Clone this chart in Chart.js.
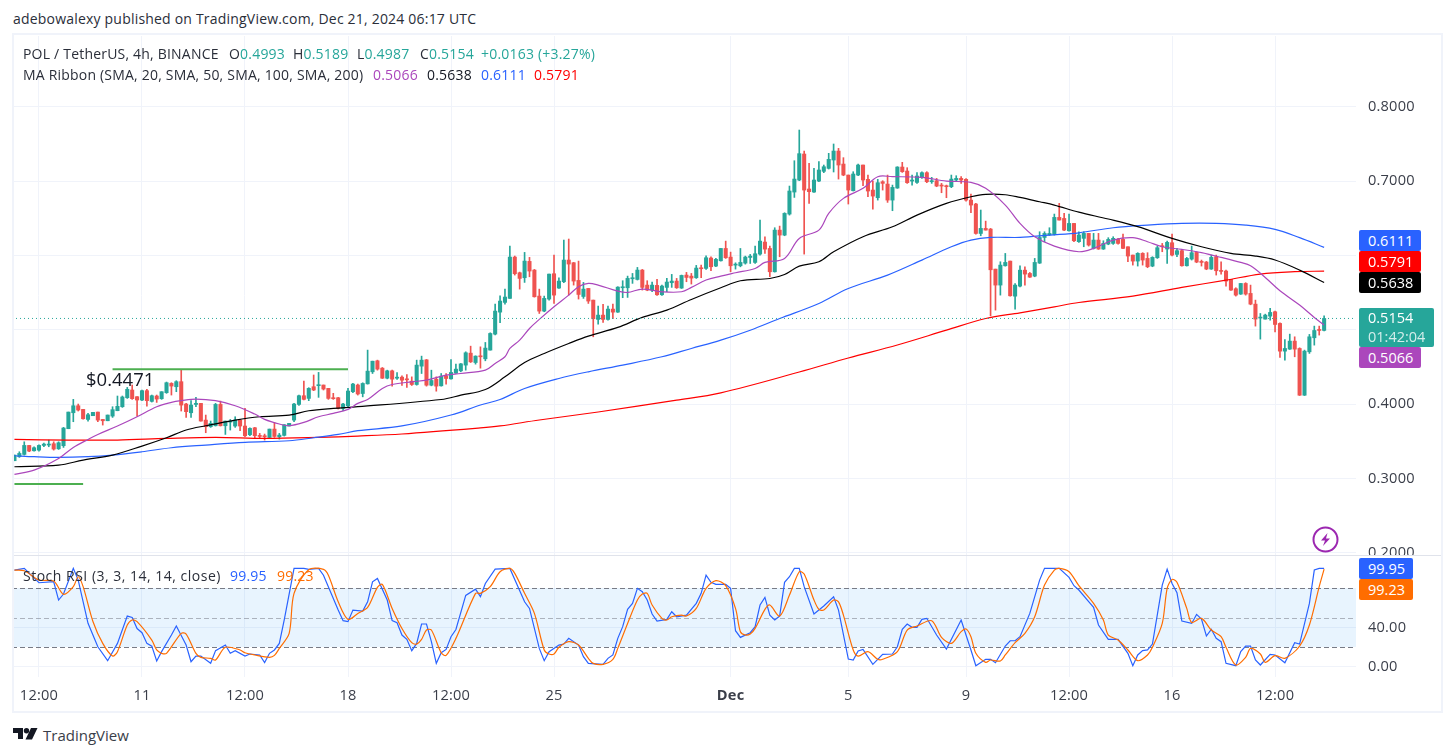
<!DOCTYPE html>
<html>
<head>
<meta charset="utf-8">
<title>POL / TetherUS</title>
<script src="https://cdn.jsdelivr.net/npm/chart.js@4"></script>
<style>
  html, body { margin: 0; padding: 0; background: #fff; width: 1453px; height: 756px; overflow: hidden; }
  body { position: relative; font-family: "Open Sans", sans-serif; font-size: 14px; letter-spacing: 0.2px; color: #131722; }
  canvas { position: absolute; }
  .t { position: absolute; white-space: pre; line-height: 16px; }
  .frame { position: absolute; box-sizing: border-box; pointer-events: none; }
  .tag { position: absolute; color: #fff; font-size: 14.5px; letter-spacing: 0; box-sizing: border-box; padding-left: 9px; border-radius: 2px; }
</style>
</head>
<body>
<canvas id="price" style="left:12px;top:36px"></canvas>
<canvas id="stoch" style="left:12px;top:556px"></canvas>

<div class="frame" style="left:12px;top:33px;width:1431px;height:680px;border:2px solid #f0f3fa"></div>
<div class="frame" style="left:14px;top:555px;width:1427px;height:1px;background:#e0e3eb"></div>

<div class="t" style="left:13px;top:11px;color:#2a2e39">adebowalexy published on TradingView.com, Dec 21, 2024 06:17 UTC</div>

<div class="t" style="left:23px;top:46px;color:#2a2e39">POL / TetherUS, 4h, BINANCE</div>
<div class="t" style="left:229px;top:46px;color:#2a2e39">O<span style="color:#26a69a">0.4993</span></div>
<div class="t" style="left:293px;top:46px;color:#2a2e39">H<span style="color:#26a69a">0.5189</span></div>
<div class="t" style="left:357px;top:46px;color:#2a2e39">L<span style="color:#26a69a">0.4987</span></div>
<div class="t" style="left:420px;top:46px;color:#2a2e39">C<span style="color:#26a69a">0.5154</span></div>
<div class="t" style="left:481px;top:46px;color:#26a69a">+0.0163 (+3.27%)</div>

<div class="t" style="left:23px;top:67px;color:#2a2e39">MA Ribbon (SMA, 20, SMA, 50, SMA, 100, SMA, 200)</div>
<div class="t" style="left:373px;top:67px;color:#ab47bc">0.5066</div>
<div class="t" style="left:427px;top:67px;color:#131722">0.5638</div>
<div class="t" style="left:481px;top:67px;color:#2962ff">0.6111</div>
<div class="t" style="left:534px;top:67px;color:#ff0000">0.5791</div>

<div class="t" style="left:86px;top:369px;font-size:18.5px;line-height:20px;letter-spacing:0;color:#131722">$0.4471</div>

<div class="t" style="left:23px;top:568px;letter-spacing:0.5px;color:#2a2e39">Stoch RSI (3, 3, 14, 14, close)</div>
<div class="t" style="left:230px;top:568px;color:#2962ff">99.95</div>
<div class="t" style="left:277px;top:568px;color:#ff6d00">99.23</div>

<div class="tag" style="left:1359px;top:230px;width:62px;height:21px;line-height:21px;background:#2962ff">0.6111</div>
<div class="tag" style="left:1359px;top:251px;width:62px;height:21px;line-height:21px;background:#ff0000">0.5791</div>
<div class="tag" style="left:1359px;top:272px;width:62px;height:21px;line-height:21px;background:#000">0.5638</div>
<div class="tag" style="left:1359px;top:308px;width:75px;height:39px;line-height:19px;background:#26a69a">0.5154<br><span style="opacity:.8">01:42:04</span></div>
<div class="tag" style="left:1359px;top:347px;width:62px;height:21px;line-height:21px;background:#ab47bc">0.5066</div>
<div class="tag" style="left:1359px;top:558px;width:54px;height:21px;line-height:21px;background:#2962ff">99.95</div>
<div class="tag" style="left:1359px;top:579px;width:54px;height:21px;line-height:21px;background:#ff6d00">99.23</div>

<svg style="position:absolute;left:1312px;top:526px" width="27" height="27" viewBox="0 0 27 27">
  <circle cx="13.5" cy="13.5" r="12" fill="#fff" stroke="#9c27b0" stroke-width="2"/>
  <path d="M15.5 7 L9 14.5 H13 L11 20 L18 12.5 H14 Z" fill="#9c27b0"/>
</svg>

<svg style="position:absolute;left:13px;top:728px" width="25" height="12" viewBox="0 0 25 12">
  <path d="M0 0H10V11H5V5H0Z M18 0H24.5L19 11.5H12.5Z" fill="#131722"/>
  <circle cx="13.5" cy="2.7" r="2.7" fill="#131722"/>
</svg>
<div class="t" style="left:43px;top:726px;font-size:15px;line-height:18px;letter-spacing:0;color:#3a3e49">TradingView</div>

<script>
// Four-hour candles, POL / TetherUS on Binance
const opens = [
.3239,.3293,.3324,.3445,.3373,.3382,.3445,.3450,.3468,.3400,
.3441,.3670,.3885,.3979,.3930,.3795,.3845,.3894,.3795,.3777,
.3840,.3912,.3966,.4087,.4191,.4101,.4056,.4182,.4038,.4110,
.4074,.4155,.4280,.4235,.4303,.4002,.3885,.3997,.4011,.3786,
.3697,.3710,.3997,.3710,.3759,.3706,.3786,.3706,.3589,.3683,
.3580,.3575,.3553,.3665,.3562,.3580,.3706,.3786,.3997,.4114,
.4078,.4235,.4249,.4258,.4213,.4087,.4087,.3944,.3979,.4168,
.4258,.4144,.4274,.4436,.4584,.4485,.4350,.4449,.4350,.4364,
.4333,.4310,.4265,.4512,.4597,.4256,.4337,.4247,.4382,.4341,
.4418,.4449,.4526,.4687,.4561,.4642,.4611,.4728,.4943,.5239,
.5370,.5424,.5980,.5769,.5702,.5922,.5805,.5455,.5253,.5415,
.5756,.5563,.5648,.5940,.5904,.5666,.5450,.5558,.5401,.5141,
.5199,.5141,.5280,.5239,.5567,.5567,.5688,.5679,.5805,.5603,
.5536,.5599,.5473,.5572,.5635,.5657,.5563,.5738,.5724,.5702,
.5832,.5828,.5967,.5859,.5930,.6096,.5980,.5872,.5863,.5899,
.5975,.5908,.6020,.6182,.6096,.5782,.6343,.6276,.6559,.6855,
.7017,.7367,.6896,.6855,.7003,.7134,.7174,.7286,.7407,.7232,
.7084,.6873,.7084,.7219,.7026,.6882,.6779,.6994,.6963,.6747,
.6909,.7192,.7138,.7003,.6985,.7053,.7116,.6994,.7008,.6949,
.6940,.6927,.7017,.7039,.7026,.6747,.6694,.6298,.6366,.6357,
.5818,.5603,.5863,.5926,.5454,.5589,.5804,.5760,.5724,.5899,
.6244,.6280,.6285,.6514,.6500,.6334,.6433,.6187,.6232,.6299,
.6097,.6209,.6088,.6155,.6164,.6218,.6218,.6119,.6007,.5926,
.6030,.5962,.5859,.5971,.6133,.6088,.6173,.6016,.6066,.5863,
.5953,.6043,.5922,.5913,.5819,.5985,.5796,.5792,.5679,.5554,
.5482,.5625,.5491,.5347,.5159,.5145,.5185,.5244,.5087,.4714,
.4741,.4849,.4750,.4121,.4705,.4894,.5006,.4993];
const highs = [
.3315,.3360,.3494,.3445,.3427,.3454,.3477,.3517,.3494,.3494,
.3688,.3894,.4065,.4002,.3930,.3876,.3890,.3894,.3795,.3854,
.3966,.4110,.4110,.4226,.4258,.4101,.4191,.4200,.4123,.4123,
.4168,.4298,.4289,.4316,.4469,.4011,.4047,.4092,.4011,.3854,
.3773,.4011,.4042,.3773,.3795,.3831,.3795,.3944,.3683,.3688,
.3607,.3598,.3665,.3755,.3607,.3724,.3742,.4011,.4123,.4312,
.4222,.4393,.4428,.4258,.4213,.4146,.4092,.4011,.4213,.4280,
.4271,.4288,.4728,.4579,.4593,.4494,.4458,.4458,.4427,.4382,
.4400,.4368,.4593,.4647,.4602,.4458,.4368,.4413,.4413,.4602,
.4539,.4548,.4705,.4781,.4651,.4772,.4831,.4961,.5347,.5459,
.5549,.6128,.5994,.5778,.6043,.5976,.5814,.5549,.5455,.5751,
.6007,.5702,.6209,.6223,.5908,.5926,.5639,.5558,.5401,.5320,
.5343,.5320,.5347,.5581,.5662,.5724,.5760,.5841,.5814,.5662,
.5644,.5679,.5603,.5693,.5747,.5693,.5738,.5774,.5760,.5868,
.5873,.5998,.5985,.5962,.6096,.6195,.6047,.5903,.6096,.5993,
.6016,.6128,.6478,.6254,.6128,.6375,.6397,.6577,.6936,.7277,
.7690,.7407,.7241,.7174,.7264,.7219,.7376,.7502,.7443,.7318,
.7084,.7129,.7232,.7219,.7084,.7003,.7026,.7008,.7084,.6949,
.7196,.7255,.7183,.7084,.7116,.7129,.7129,.7053,.7039,.6972,
.6949,.7084,.7075,.7062,.7035,.6828,.6703,.6613,.6464,.6366,
.5818,.5917,.6029,.5926,.5625,.5863,.5849,.5773,.5962,.6321,
.6321,.6375,.6559,.6703,.6568,.6559,.6433,.6321,.6321,.6299,
.6299,.6299,.6200,.6241,.6254,.6232,.6290,.6119,.6007,.6039,
.6039,.6039,.5985,.6128,.6164,.6196,.6290,.6097,.6075,.5976,
.6128,.6052,.5940,.5922,.6007,.6007,.5917,.5805,.5679,.5567,
.5625,.5635,.5603,.5401,.5221,.5212,.5289,.5253,.5096,.4871,
.4943,.4907,.4759,.4728,.4939,.5051,.5051,.5189];
const lows = [
.3239,.3284,.3315,.3360,.3369,.3369,.3427,.3427,.3382,.3391,
.3418,.3670,.3764,.3908,.3800,.3773,.3845,.3764,.3719,.3777,
.3822,.3912,.3957,.4078,.4065,.3840,.4047,.3975,.4029,.4024,
.4065,.4146,.4123,.4168,.3908,.3822,.3822,.3966,.3773,.3616,
.3688,.3706,.3706,.3593,.3652,.3688,.3643,.3562,.3575,.3539,
.3539,.3517,.3539,.3553,.3530,.3571,.3706,.3764,.3984,.4056,
.4047,.4182,.4092,.4191,.4065,.4065,.3935,.3912,.3957,.4155,
.4123,.4099,.4270,.4413,.4458,.4346,.4341,.4243,.4333,.4252,
.4225,.4252,.4256,.4413,.4243,.4247,.4175,.4243,.4270,.4337,
.4413,.4436,.4458,.4561,.4539,.4485,.4584,.4728,.4934,.5096,
.5347,.5424,.5738,.5549,.5639,.5715,.5441,.5221,.5244,.5401,
.5356,.5558,.5635,.5468,.5603,.5415,.5424,.5356,.4907,.5078,
.5100,.5132,.5150,.5235,.5433,.5437,.5626,.5671,.5536,.5527,
.5513,.5464,.5464,.5513,.5572,.5558,.5558,.5648,.5617,.5693,
.5702,.5814,.5796,.5850,.5926,.5962,.5782,.5818,.5849,.5885,
.5894,.5894,.6007,.6029,.5715,.5778,.5984,.6267,.6545,.6783,
.7008,.6020,.6703,.6851,.6994,.7116,.7165,.7125,.7030,.7075,
.6694,.6869,.7075,.6940,.6792,.6626,.6747,.6882,.6716,.6604,
.6905,.7120,.6972,.6949,.6972,.7039,.6981,.6972,.6927,.6846,
.6779,.6914,.7008,.6972,.6734,.6577,.6289,.6267,.6343,.5189,
.5266,.5468,.5858,.5454,.5279,.5580,.5603,.5706,.5715,.5894,
.6186,.6271,.6276,.6478,.6334,.6330,.6186,.6178,.6119,.6128,
.6088,.6083,.6083,.6146,.6151,.6155,.6092,.5917,.5872,.5859,
.5872,.5837,.5850,.5962,.6052,.5895,.5994,.5985,.5859,.5859,
.5940,.5904,.5859,.5810,.5814,.5738,.5751,.5590,.5531,.5455,
.5477,.5468,.5338,.5051,.4876,.5145,.5132,.4974,.4629,.4593,
.4737,.4638,.4117,.4117,.4683,.4795,.4930,.4987];
const closes = [
.3315,.3337,.3445,.3369,.3414,.3445,.3463,.3463,.3396,.3481,
.3679,.3894,.3979,.3921,.3804,.3858,.3890,.3786,.3777,.3854,
.3926,.3971,.4097,.4200,.4074,.4056,.4182,.4047,.4114,.4069,
.4168,.4289,.4244,.4303,.3988,.3899,.3988,.4011,.3773,.3697,
.3742,.3997,.3710,.3773,.3773,.3786,.3706,.3575,.3674,.3575,
.3566,.3562,.3665,.3566,.3584,.3724,.3742,.4002,.4114,.4065,
.4213,.4191,.4258,.4204,.4078,.4074,.3944,.4002,.4177,.4271,
.4137,.4279,.4445,.4579,.4472,.4350,.4449,.4337,.4364,.4323,
.4328,.4265,.4526,.4593,.4256,.4319,.4243,.4377,.4346,.4427,
.4472,.4543,.4692,.4570,.4647,.4638,.4755,.4952,.5253,.5388,
.5442,.5980,.5756,.5693,.5926,.5792,.5446,.5253,.5424,.5751,
.5468,.5657,.5940,.5886,.5657,.5477,.5549,.5388,.5150,.5199,
.5141,.5280,.5239,.5576,.5576,.5693,.5702,.5805,.5572,.5536,
.5603,.5473,.5590,.5644,.5657,.5567,.5733,.5706,.5697,.5832,
.5823,.5971,.5850,.5949,.6096,.5971,.5863,.5885,.5908,.5980,
.5993,.6025,.6195,.6087,.5782,.6343,.6276,.6568,.6869,.7030,
.7372,.6882,.6860,.7017,.7152,.7196,.7295,.7407,.7219,.7084,
.6882,.7098,.7219,.7017,.6869,.6801,.6981,.6972,.6747,.6918,
.7192,.7129,.6981,.7017,.7071,.7116,.6994,.7008,.6936,.6936,
.6927,.7030,.7039,.7017,.6747,.6680,.6298,.6366,.6343,.5809,
.5603,.5872,.5908,.5459,.5603,.5804,.5751,.5710,.5908,.6244,
.6298,.6298,.6514,.6478,.6343,.6433,.6200,.6277,.6299,.6142,
.6209,.6088,.6164,.6218,.6232,.6164,.6097,.5994,.5926,.6030,
.5940,.5850,.5976,.6106,.6119,.6178,.6007,.6066,.5863,.5962,
.6039,.5913,.5908,.5819,.5976,.5796,.5787,.5657,.5536,.5468,
.5625,.5482,.5347,.5145,.5167,.5199,.5235,.5073,.4714,.4750,
.4849,.4741,.4121,.4714,.4907,.4992,.4992,.5154];

// Moving averages, read at the bars where each curve bends
const ma20Bars = [0,4,9,12,15,17,21,25,29,32,34,37,41,45,49,51,54,56,59,62,65,68,70,72,75,77,81,84,88,91,96,98,100,101,103,105,107,110,113,115,117,119,123,125,128,132,136,138,141,144,147,151,153,157,160,164,166,169,173,176,179,185,190,195,198,202,205,208,212,217,220,224,228,231,234,238,242,246,250,252,255,258,262,265,267];
const ma20 = [.3055,.3113,.3270,.3418,.3526,.3593,.3706,.3831,.3966,.4024,.4047,.4069,.4047,.3979,.3867,.3795,.3733,.3710,.3755,.3831,.3876,.3930,.4011,.4063,.4211,.4265,.4301,.4323,.4391,.4413,.4458,.4548,.4638,.4750,.4862,.5019,.5141,.5311,.5468,.5581,.5626,.5603,.5522,.5504,.5549,.5513,.5513,.5572,.5671,.5724,.5769,.5827,.5908,.5962,.6231,.6343,.6568,.6770,.6905,.7062,.7062,.7053,.7003,.6985,.6905,.6680,.6433,.6254,.6128,.6052,.6097,.6209,.6241,.6187,.6119,.6083,.6039,.5976,.5908,.5864,.5706,.5527,.5334,.5168,.5066];
const ma50Bars = [0,9,14,20,26,31,35,39,45,50,56,60,65,70,87,91,96,100,104,108,113,117,123,128,133,138,144,148,154,157,160,164,167,173,179,184,190,195,198,202,205,209,212,217,223,229,236,242,248,253,257,262,267];
const ma50 = [.3158,.3180,.3248,.3315,.3436,.3548,.3652,.3710,.3786,.3831,.3854,.3912,.3944,.3966,.4063,.4121,.4198,.4368,.4561,.4683,.4817,.4916,.5033,.5168,.5266,.5410,.5567,.5661,.5692,.5746,.5858,.5917,.6051,.6254,.6388,.6545,.6703,.6792,.6824,.6819,.6783,.6725,.6680,.6584,.6492,.6389,.6232,.6119,.6030,.5994,.5940,.5805,.5638];
const ma100Bars = [0,4,9,15,20,26,32,39,47,56,61,66,70,79,89,95,99,104,111,117,124,132,138,144,150,156,164,170,178,185,191,195,199,205,211,217,224,231,238,245,251,257,262,267];
const ma100 = [.3306,.3293,.3284,.3293,.3315,.3360,.3414,.3450,.3486,.3508,.3548,.3593,.3643,.3707,.3854,.3989,.4063,.4211,.4346,.4436,.4526,.4638,.4750,.4862,.4996,.5153,.5356,.5558,.5737,.5939,.6119,.6209,.6245,.6245,.6276,.6307,.6375,.6411,.6434,.6434,.6411,.6353,.6241,.6111];
const ma200Bars = [0,11,21,31,41,51,62,70,79,95,99,107,119,135,144,160,170,180,190,198,205,212,217,228,238,247,254,261,267];
const ma200 = [.3526,.3517,.3517,.3539,.3553,.3539,.3553,.3571,.3599,.3680,.3707,.3787,.3895,.4054,.4153,.4433,.4622,.4797,.4996,.5153,.5230,.5311,.5369,.5455,.5572,.5670,.5751,.5783,.5791];

// Horizontal ray drawings on the price pane
const resistance = 0.4471;
const resistanceBars = [20, 68];
const support = 0.2926;
const supportBars = [0, 14];

// Stochastic RSI, both lines
const stochKBars = [0,2,5,8,9,10,12,13,15,17,19,21,23,24,25,26,27,28,29,30,32,33,35,36,37,38,40,41,43,44,45,47,48,50,51,52,53,54,55,57,59,60,62,63,66,67,68,69,71,72,73,74,76,77,78,79,80,81,82,83,84,85,86,87,88,89,90,92,94,95,96,98,101,104,105,107,108,109,111,112,113,115,116,117,120,121,122,123,124,125,126,127,128,129,130,131,133,134,135,137,139,140,141,142,143,145,146,147,148,150,151,152,153,154,155,156,157,158,159,160,161,163,165,167,168,170,171,172,173,175,177,179,180,181,182,183,184,185,186,188,190,193,195,196,198,199,200,202,203,204,205,207,209,210,213,215,216,217,219,220,221,223,225,227,228,229,230,231,232,234,235,236,237,238,240,241,242,243,244,245,246,247,249,250,251,252,253,254,256,257,259,261,262,264,265,266,267];
const stochK = [98.3,100,85.4,86.4,67.8,73.9,100,88.1,44.1,20.3,6.1,23.7,51.5,50,38.8,34.6,23.7,20.9,5.8,15.3,32.2,41.4,22,5,10.8,10.8,3.4,16.3,22,13.6,16.3,10.8,12.9,11.9,4.1,13.6,17,23.7,47.5,100,100,99,100,93,57.6,46.8,45.8,57.6,56.6,66,86.4,89.8,67.8,46.8,44.7,32.2,27.8,16.3,23.7,43.4,43.4,25.4,3.4,14.2,17.6,30.5,37.8,72.5,78.9,71.2,84.7,99.3,100,66,59.3,18.6,6.1,15.3,22,23,28.8,22,10.2,3.4,2.4,8.5,11.9,28.8,40.7,58.3,64.4,79.7,76.3,67.8,53.6,46.4,48.1,55.9,50.8,52.5,64.4,74.6,93.2,85.8,83.7,83.7,79.7,36.6,29.8,34.6,40.7,62.7,70.5,52.5,47.5,51.5,85.8,91.5,100,100,81.4,53.6,61.7,71.2,57.6,7.8,6.8,15.9,17.6,2.4,12.5,12.9,20.3,38,43.4,40,40,48.1,49.2,32.2,18,47.5,17,1,7.5,7.5,4,21,26.4,26.4,30.5,54.2,88.1,100,100,90.8,82.4,78,66.1,60.3,42.4,27.8,27.8,13.6,1,11.9,16.3,17,23,83,99.3,84.7,75.3,46.4,44,53.2,48.5,31.2,38,28.8,25.4,3.4,1,15.3,21,21,6.8,1.7,12.5,11.9,4,24.4,23,64.4,98.3,100,99.95];
const stochDBars = [0,2,5,8,10,12,13,14,16,18,20,21,23,24,25,28,29,30,31,34,35,37,38,40,41,43,46,47,49,52,53,54,56,57,60,63,64,66,68,70,72,74,75,77,79,81,82,83,84,85,87,88,90,94,95,97,99,101,102,104,106,108,109,110,111,113,115,117,118,120,122,123,125,127,128,129,130,132,133,134,136,137,139,141,143,145,147,148,149,150,151,153,154,156,158,160,161,163,164,165,167,168,169,171,172,174,176,177,180,182,184,187,189,191,193,194,195,196,198,199,201,202,204,206,208,210,212,213,215,217,220,222,223,225,227,229,231,232,234,235,236,237,239,240,242,244,246,247,249,251,252,254,255,257,259,262,264,266,267];
const stochD = [98.3,97.6,88.1,87.1,73.6,81.4,91.5,81.4,46,23.7,10.8,15.3,42.4,47.5,45.8,27.1,17,13.6,13.6,33.9,33.2,13.6,9.5,8.5,6.8,19.7,17,14.2,11.9,9.5,11.5,18.6,33.9,74.6,98.6,99,93,66.1,48.1,54.2,60.3,80.7,83.7,59.3,38.9,24.4,23,27.8,37.3,37.3,14.2,11.5,28.8,74.6,74.6,81.4,96.6,100,94.9,74.6,54.2,17,12.9,12.9,19.7,25.4,22,8.5,3.4,2.4,7.5,18.6,44,67.8,73.9,74.6,62.7,49.2,47.5,50.8,52.5,51.5,59.3,79.7,87.5,82.4,59.3,35.6,32.2,33.2,39,58.3,62.7,51.5,72.9,96.6,94.2,67.8,58.3,57.6,67.8,66,52.5,17,10.8,15.3,7.5,7.5,15.3,37.3,41.4,46.8,29.8,23.7,35.6,38.3,30.5,13.6,4.4,6.8,5.8,11.9,24.4,33.9,50.8,83,98.3,100,96.6,82.4,64.4,47.5,32.2,27.1,17,6.1,11.9,19.7,44,79.7,88.8,85.8,59.3,45,49.2,37.3,30.5,19.7,1.7,9.5,18.6,12.9,4.4,11.2,8.5,21,42.4,81.4,99.23];

// Axis ticks
const priceTicks = [0.2, 0.3, 0.4, 0.5, 0.6, 0.7, 0.8];
const stochTicks = [0, 40];
const timeBars = [5, 26, 47, 68, 89, 110, 146, 170, 194, 215, 236, 257];
const timeNames = ['12:00','11','12:00','18','12:00','25','Dec','5','9','12:00','16','12:00'];

const lastClose = closes[closes.length - 1];
const emptyBarsRight = 6;
const barCount = closes.length + emptyBarsRight;

const barLabels = Array.from({ length: barCount }, (_, i) => {
  const at = timeBars.indexOf(i);
  return at >= 0 ? timeNames[at] : '';
});

function sparse(bars, values) {
  const out = new Array(barCount).fill(null);
  bars.forEach((b, i) => { out[b] = values[i]; });
  return out;
}

const UP = '#26a69a', DOWN = '#ef5350';
const candleColors = closes.map((c, i) => (c >= opens[i] ? UP : DOWN));
const TICK_FONT = { family: '"Open Sans", sans-serif', size: 14.6 };
const GRID = '#f0f3fa';
const AXIS_WIDTH = 87;

function fixX(height) {
  return function (scale) {
    scale.paddingLeft = 0; scale.paddingRight = 0;
    scale.height = height;
  };
}
function fixY(scale) {
  scale.paddingTop = 0; scale.paddingBottom = 0;
  scale.width = AXIS_WIDTH;
}
function xTicks(scale) {
  scale.ticks = timeBars.map(v => ({ value: v }));
}
function sizeCanvas(id, w, h) {
  const c = document.getElementById(id);
  c.width = w; c.height = h;
  c.style.width = w + 'px'; c.style.height = h + 'px';
  return c;
}
const maLine = (label, bars, values, color) => ({
  type: 'line', label, data: sparse(bars, values), borderColor: color, borderWidth: 1.2,
  pointRadius: 0, spanGaps: true, tension: 0.35, order: 1
});
const rayLine = (label, bars, value) => ({
  type: 'line', label, data: sparse(bars, [value, value]), borderColor: '#4caf50', borderWidth: 2,
  pointRadius: 0, spanGaps: true, order: 1
});

// Dotted line at the latest close
const lastPriceLine = {
  id: 'lastPriceLine',
  afterDatasetsDraw(chart) {
    const { ctx, chartArea, scales } = chart;
    const y = scales.y.getPixelForValue(lastClose);
    ctx.save();
    ctx.strokeStyle = UP; ctx.lineWidth = 1; ctx.setLineDash([1, 3]);
    ctx.beginPath(); ctx.moveTo(chartArea.left, y); ctx.lineTo(chartArea.right, y); ctx.stroke();
    ctx.restore();
  }
};

new Chart(sizeCanvas('price', 1431, 519), {
  type: 'bar',
  data: {
    labels: barLabels,
    datasets: [
      maLine('SMA 20', ma20Bars, ma20, '#ab47bc'),
      maLine('SMA 50', ma50Bars, ma50, '#000000'),
      maLine('SMA 100', ma100Bars, ma100, '#2962ff'),
      maLine('SMA 200', ma200Bars, ma200, '#ff0000'),
      rayLine('Resistance', resistanceBars, resistance),
      rayLine('Support', supportBars, support),
      { label: 'Wick', data: lows.map((l, i) => [l, highs[i]]), backgroundColor: candleColors,
        barThickness: 1, grouped: false, order: 3 },
      { label: 'Body', data: opens.map((o, i) => [o, closes[i]]), backgroundColor: candleColors,
        barThickness: 3.4, minBarLength: 1, grouped: false, order: 2 }
    ]
  },
  plugins: [lastPriceLine],
  options: {
    responsive: false, animation: false, devicePixelRatio: 1,
    layout: { padding: 0 },
    plugins: { legend: { display: false }, tooltip: { enabled: false } },
    scales: {
      x: {
        offset: true,
        grid: { offset: false, color: GRID, drawTicks: false },
        border: { display: false },
        ticks: { display: false, autoSkip: false, maxRotation: 0 },
        afterBuildTicks: xTicks,
        afterFit: fixX(0)
      },
      y: {
        position: 'right', min: 0.19703, max: 0.89555,
        grid: { color: GRID, drawTicks: false },
        border: { display: false },
        ticks: { font: TICK_FONT, color: '#3a3e49', padding: 12, callback: v => Number(v).toFixed(4) },
        afterBuildTicks: s => { s.ticks = priceTicks.map(v => ({ value: v })); },
        afterFit: fixY
      }
    }
  }
});

// Overbought / oversold band with its dashed limits
const stochLevels = {
  id: 'stochLevels',
  beforeDatasetsDraw(chart) {
    const { ctx, chartArea, scales } = chart;
    const top = scales.y.getPixelForValue(80), mid = scales.y.getPixelForValue(50), low = scales.y.getPixelForValue(20);
    ctx.save();
    ctx.fillStyle = 'rgba(33,150,243,0.1)';
    ctx.fillRect(chartArea.left, top, chartArea.width, low - top);
    ctx.lineWidth = 1; ctx.setLineDash([5, 3]);
    [[top, '#787b86'], [mid, 'rgba(120,123,134,0.55)'], [low, '#787b86']].forEach(([y, color]) => {
      const crisp = Math.round(y) + 0.5;
      ctx.strokeStyle = color;
      ctx.beginPath(); ctx.moveTo(chartArea.left, crisp); ctx.lineTo(chartArea.right, crisp); ctx.stroke();
    });
    ctx.restore();
  }
};

new Chart(sizeCanvas('stoch', 1431, 156), {
  type: 'line',
  data: {
    labels: barLabels,
    datasets: [
      { label: '%D', data: sparse(stochDBars, stochD), borderColor: '#ff6d00', borderWidth: 1.2,
        pointRadius: 0, spanGaps: true, tension: 0.3, order: 1 },
      { label: '%K', data: sparse(stochKBars, stochK), borderColor: '#2962ff', borderWidth: 1.2,
        pointRadius: 0, spanGaps: true, tension: 0, order: 2 }
    ]
  },
  plugins: [stochLevels],
  options: {
    responsive: false, animation: false, devicePixelRatio: 1,
    layout: { padding: 0 },
    plugins: { legend: { display: false }, tooltip: { enabled: false } },
    scales: {
      x: {
        offset: true,
        grid: { offset: false, color: GRID, drawTicks: false },
        border: { display: false },
        ticks: {
          autoSkip: false, maxRotation: 0, minRotation: 0, padding: 10, color: '#3a3e49',
          font: ctx => (ctx.tick && ctx.tick.label === 'Dec'
            ? { ...TICK_FONT, weight: 'bold' } : TICK_FONT)
        },
        afterBuildTicks: xTicks,
        afterFit: fixX(35)
      },
      y: {
        position: 'right', min: -10.5, max: 112.6,
        grid: { color: GRID, drawTicks: false },
        border: { display: false },
        ticks: { font: TICK_FONT, color: '#3a3e49', padding: 12, callback: v => Number(v).toFixed(2) },
        afterBuildTicks: s => { s.ticks = stochTicks.map(v => ({ value: v })); },
        afterFit: fixY
      }
    }
  }
});
</script>
</body>
</html>
